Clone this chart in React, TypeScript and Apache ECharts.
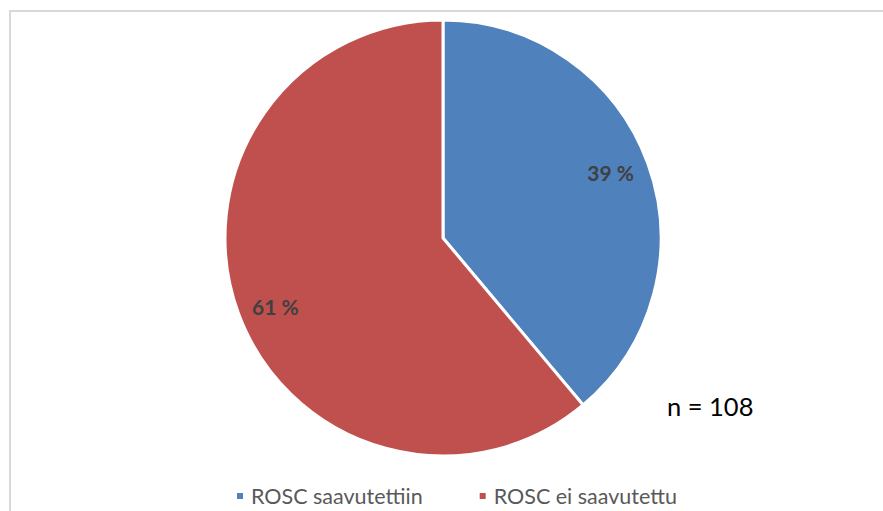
import React, { useEffect, useRef } from "react";
import * as echarts from "echarts";

const categories = ["ROSC saavutettiin", "ROSC ei saavutettu"];
const counts = [42, 66];
const colors = ["#4F81BD", "#C0504D"];
const labelsPct = ["39 %", "61 %"];
const noteText = "n = 108";

export default function App() {
  const ref = useRef<HTMLDivElement>(null);
  useEffect(() => {
    if (!ref.current) return;
    const chart = echarts.init(ref.current, null, { renderer: "svg" });
    const data = categories.map((name, i) => ({
      name,
      value: counts[i],
      itemStyle: { color: colors[i] },
    }));
    chart.setOption({
      animation: false,
      backgroundColor: "#ffffff",
      legend: {
        data: categories,
        left: 230,
        top: 480,
        icon: "rect",
        itemWidth: 8,
        itemHeight: 8,
        itemGap: 55,
        textStyle: {
          fontFamily: "Lato",
          fontSize: 21.5,
          color: "#595959",
          padding: [0, 0, 0, 2],
        },
      },
      graphic: [
        {
          type: "rect",
          shape: { x: 10, y: 11, width: 900, height: 520 },
          style: { fill: "none", stroke: "#D9D9D9", lineWidth: 2 },
          silent: true,
          z: -1,
        },
        {
          type: "text",
          x: 667,
          y: 393,
          style: {
            text: noteText,
            fontFamily: "Lato",
            fontSize: 25.5,
            fill: "#000000",
          },
        },
      ],
      series: [
        {
          type: "pie",
          center: [443, 238],
          radius: [0, 218],
          startAngle: 90,
          clockwise: true,
          data,
          label: { show: false },
          labelLine: { show: false },
          itemStyle: { borderColor: "#ffffff", borderWidth: 3 },
        },
        {
          type: "pie",
          center: [443, 241],
          radius: [140, 215],
          startAngle: 90,
          clockwise: true,
          silent: true,
          data: categories.map((name, i) => ({
            name,
            value: counts[i],
            itemStyle: { color: "rgba(0,0,0,0)" },
            label: { formatter: labelsPct[i] },
          })),
          label: {
            show: true,
            position: "inside",
            fontFamily: "Lato",
            fontWeight: "bold",
            fontSize: 21,
            color: "#404040",
          },
          labelLayout: (params: any) =>
            params.dataIndex === 0 ? { dx: -2, dy: -7 } : { dx: 2, dy: 4 },
          labelLine: { show: false },
        },
      ],
    });
    return () => chart.dispose();
  }, []);
  return (
    <div
      ref={ref}
      style={{ position: "absolute", left: 0, top: 0, width: 883, height: 511 }}
    />
  );
}
